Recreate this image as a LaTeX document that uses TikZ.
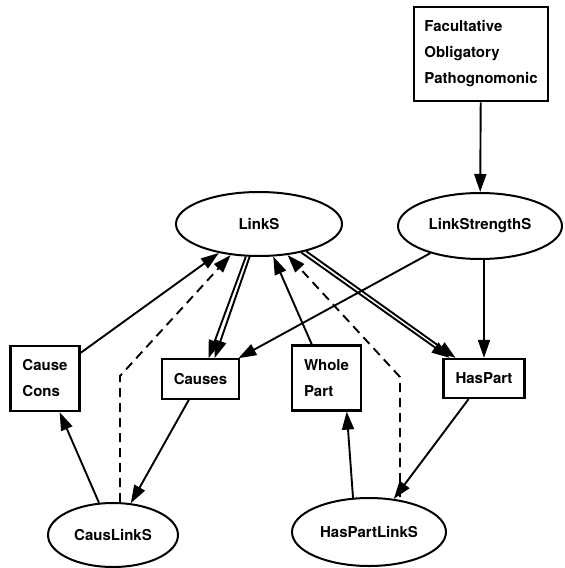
\documentclass[tikz,border=0pt]{standalone}
\usepackage{fontspec}
\setmainfont{TeX Gyre Heros}
\usetikzlibrary{shapes.geometric, arrows.meta}

\begin{document}
\begin{tikzpicture}[x=1pt, y=-1pt,
  box/.style={draw, line width=2.2pt, align=left, inner xsep=12pt, inner ysep=14pt, font=\fontsize{15}{26}\selectfont\bfseries},
  ent/.style={draw, ellipse, line width=2pt, inner sep=0pt, font=\fontsize{15}{18}\selectfont\bfseries},
  arr/.style={line width=1.9pt, -{Triangle[length=18pt, width=12pt]}},
  dsh/.style={arr, dash pattern=on 9pt off 6pt}]
  \useasboundingbox (0,0) rectangle (565,568);
  \node[box, inner xsep=10pt] (strengths) at (481,54) {Facultative\\Obligatory\\Pathognomonic};
  \node[ent, minimum width=166pt, minimum height=64pt] (links) at (259,224) {LinkS};
  \node[ent, minimum width=164pt, minimum height=66pt] (linkstr) at (480,226) {LinkStrengthS};
  \node[box] (causecons) at (45,378.5) {Cause\\Cons};
  \node[box] (causes) at (200.5,379) {Causes};
  \node[box] (wholepart) at (326.5,378) {Whole\\Part};
  \node[box] (haspart) at (484,378.5) {HasPart};
  \node[ent, minimum width=130pt, minimum height=64pt] (causlinks) at (113,535) {CausLinkS};
  \node[ent, minimum width=154pt, minimum height=68pt] (haspartlinks) at (369,532) {HasPartLinkS};
  \coordinate (cbend) at (120,376);
  \coordinate (hbend) at (400,377);

  \draw[arr] (strengths) -- (linkstr);
  \draw[arr] (linkstr) -- (causes);
  \draw[arr] (linkstr.south -| haspart.north) -- (haspart.north);
  \draw[arr] (causecons) -- (links);
  \draw[arr] (links.248) -- (causes.69);
  \draw[arr] (links.254) -- (causes.56);
  \draw[arr] (causes) -- (causlinks);
  \draw[arr] (causlinks) -- (causecons);
  \draw[arr] (wholepart) -- (links);
  \draw[arr] (links.-34) -- (haspart.149);
  \draw[arr] (links.-30) -- (haspart.144);
  \draw[arr] (haspart) -- (haspartlinks);
  \draw[arr] (haspartlinks.115) -- (wholepart.-59);
  \draw[dsh] (causlinks.north -| cbend) -- (cbend) -- (links);
  \draw[dsh] (haspartlinks.north -| hbend) -- (hbend) -- (links);
\end{tikzpicture}
\end{document}
